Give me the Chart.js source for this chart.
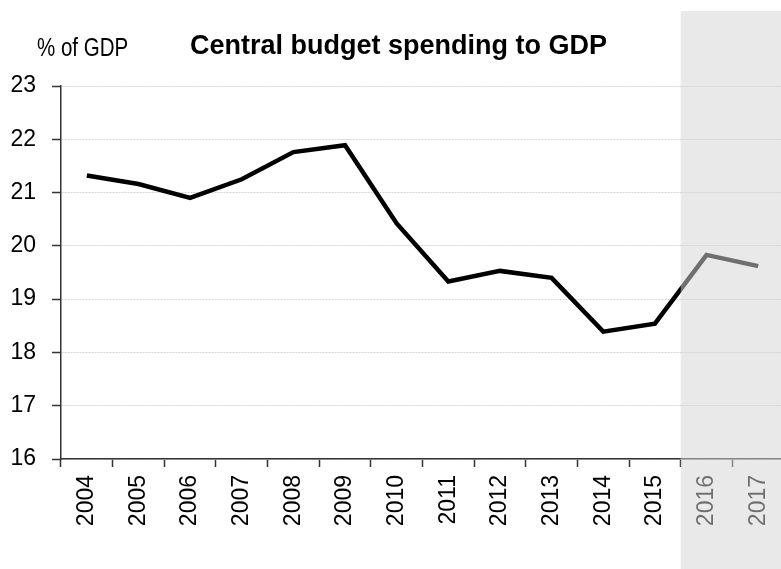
<!DOCTYPE html>
<html>
<head>
<meta charset="utf-8">
<script src="https://cdn.jsdelivr.net/npm/chart.js@4"></script>
<style>
  html, body { margin: 0; padding: 0; background: #fff; overflow: hidden; }
  #wrap { width: 785px; height: 569px; position: relative; }
</style>
</head>
<body>
<div id="wrap"><canvas id="budgetChart"></canvas></div>
<script>
// Data
const years = ['2004', '2005', '2006', '2007', '2008', '2009', '2010',
  '2011', '2012', '2013', '2014', '2015', '2016', '2017'];
const spending = [21.32, 21.16, 20.90, 21.25, 21.76, 21.89, 20.42,
  19.33, 19.53, 19.40, 18.39, 18.54, 19.83, 19.62];
const yTicks = [16, 17, 18, 19, 20, 21, 22, 23];
const forecastFrom = '2016';

const sans = "'Liberation Sans', Arial, sans-serif";

// Title and unit label at the top
const headerText = {
  id: 'headerText',
  afterDraw(chart) {
    const c = chart.ctx;
    c.save();
    c.fillStyle = '#000';
    c.textBaseline = 'alphabetic';
    c.textAlign = 'center';
    c.font = 'bold 27px ' + sans;
    c.fillText('Central budget spending to GDP', 398.5, 54);
    // unit label uses a condensed face, squeeze it horizontally
    c.textAlign = 'left';
    c.font = '25px ' + sans;
    c.translate(37, 56);
    c.scale(0.82, 1);
    c.fillText('% of GDP', 0, 0);
    c.restore();
  }
};

// Grey band over the forecast years
const forecastBand = {
  id: 'forecastBand',
  afterDraw(chart) {
    const x = chart.scales.x;
    const i = years.indexOf(forecastFrom);
    const half = (x.getPixelForValue(1) - x.getPixelForValue(0)) / 2;
    const left = x.getPixelForValue(i) - half;
    const c = chart.ctx;
    c.save();
    c.fillStyle = 'rgba(213, 213, 213, 0.52)';
    c.fillRect(left, 11, chart.width - left, chart.height - 11);
    c.restore();
  }
};

const ctx = document.getElementById('budgetChart').getContext('2d');

new Chart(ctx, {
  type: 'line',
  data: {
    labels: years,
    datasets: [{
      data: spending,
      borderColor: '#000',
      borderWidth: 4.5,
      pointRadius: 0,
      tension: 0,
      fill: false
    }]
  },
  options: {
    responsive: true,
    maintainAspectRatio: false,
    animation: false,
    layout: { padding: { top: 86, right: 1, left: 0, bottom: 0 } },
    plugins: {
      legend: { display: false },
      tooltip: { enabled: false }
    },
    scales: {
      x: {
        offset: true,
        grid: {
          offset: true,
          drawOnChartArea: false,
          drawTicks: true,
          tickLength: 8,
          tickColor: '#333',
          tickWidth: 1.5
        },
        border: { display: true, color: '#333', width: 1.5 },
        ticks: {
          color: '#000',
          font: { family: sans, size: 23 },
          minRotation: 90,
          maxRotation: 90,
          padding: 8,
          autoSkip: false
        },
        afterFit(scale) {
          scale.height = 110;
          scale.paddingLeft = 0;
          scale.paddingRight = 0;
        }
      },
      y: {
        min: yTicks[0],
        max: yTicks[yTicks.length - 1],
        afterBuildTicks(scale) {
          scale.ticks = yTicks.map(v => ({ value: v }));
        },
        grid: {
          color: '#d4d4d4',
          lineWidth: 1,
          drawTicks: true,
          tickLength: 9,
          tickColor: '#333',
          tickWidth: 1.5,
          tickBorderDash: []
        },
        border: { display: true, color: '#333', width: 1.5, dash: [2, 1] },
        ticks: {
          color: '#000',
          font: { family: sans, size: 23 },
          padding: 16
        },
        afterFit(scale) { scale.width = 61; }
      }
    }
  },
  plugins: [forecastBand, headerText]
});
</script>
</body>
</html>
